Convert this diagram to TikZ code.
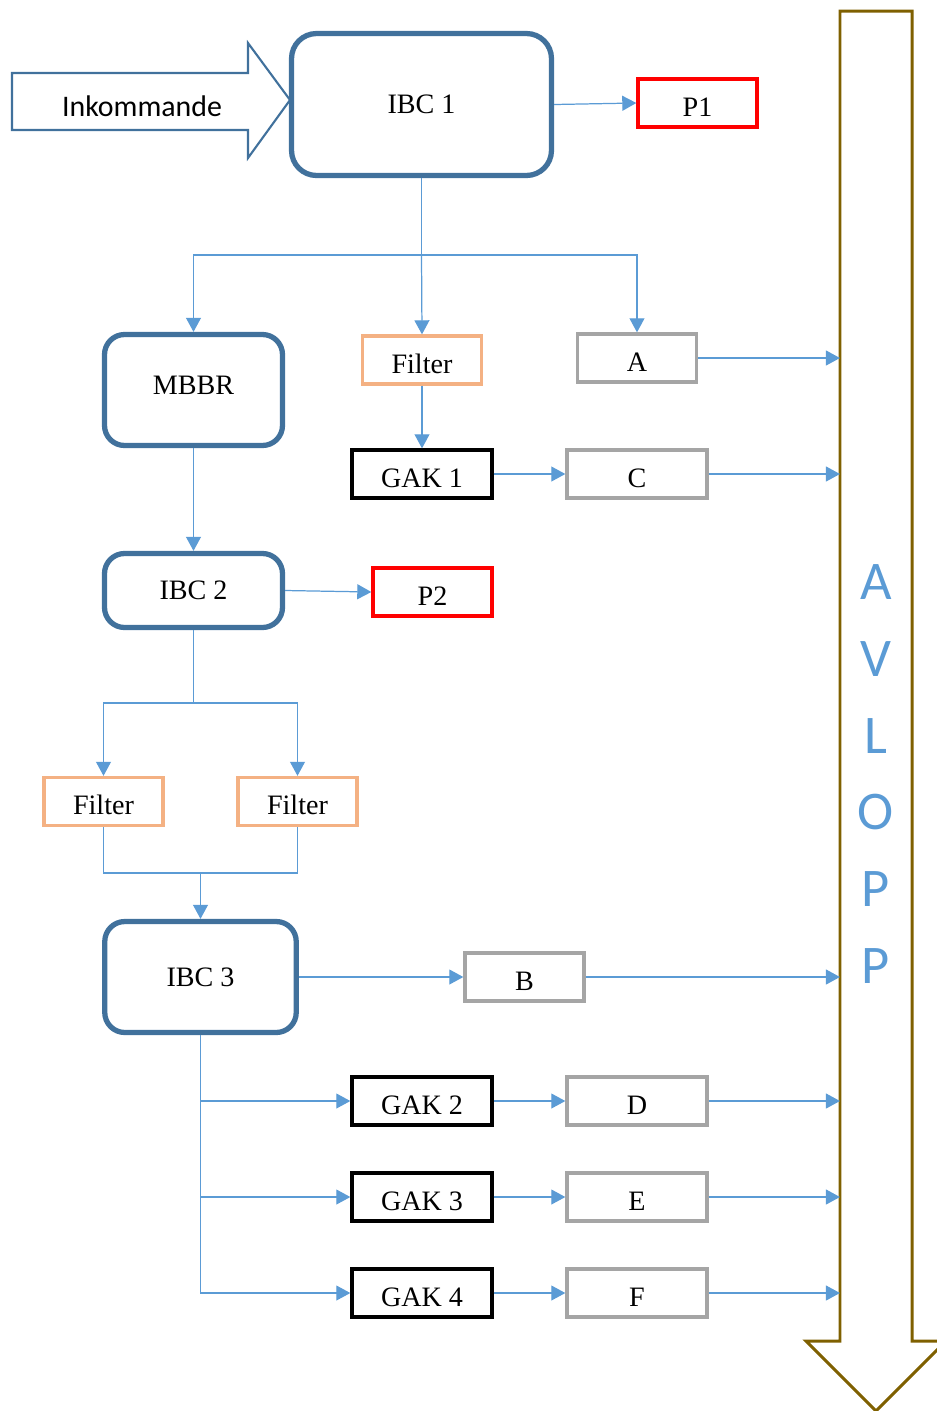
\documentclass[tikz,border=0pt]{standalone}
\usepackage{fontspec}
\setmainfont{Liberation Serif}
\newfontfamily\calibri{Carlito}
\usetikzlibrary{arrows.meta}
\definecolor{tankblue}{HTML}{41719C}
\definecolor{lineblue}{HTML}{5B9BD5}
\definecolor{filterorange}{HTML}{F4B183}
\definecolor{boxgray}{HTML}{A5A5A5}
\definecolor{avlbrown}{HTML}{7F6000}
\tikzset{>={Triangle[length=8pt,width=8.5pt]}}
\tikzset{
  tank/.style={draw=tankblue,line width=3pt,rounded corners=0.4cm,font=\fontsize{16}{19}\selectfont},
  smallbox/.style={draw,line width=1.9pt,minimum width=2.38cm,minimum height=0.96cm,text height=15pt,text depth=0pt,font=\fontsize{16}{19}\selectfont},
  widebox/.style={smallbox,minimum width=2.8cm},
  flow/.style={draw=lineblue,line width=0.7pt}
}

\begin{document}
\begin{tikzpicture}[x=0.02cm,y=-0.02cm]
      \useasboundingbox (0,0) rectangle (937,1411);
      % inkommande and avlopp
      \draw[tankblue,line width=1.2pt] (12,73) -- (248,73) -- (248,43) -- (290,100) -- (248,158) -- (248,130) -- (12,130) -- cycle;
      \node[font=\calibri\fontsize{17}{20}\selectfont] (ink) at (142,106) {Inkommande};
      \draw[avlbrown,line width=1.7pt] (840,11) -- (912,11) -- (912,1341) -- (946,1341) -- (876,1411) -- (806,1341) -- (840,1341) -- cycle;
      \node[align=center,text=lineblue,font=\calibri\fontsize{31}{43.7}\selectfont] (avl) at (876,774) {A\\V\\L\\O\\P\\P};
      \coordinate (avledge) at (840,0);
      % tanks
      \node[tank,rounded corners=0.5cm,minimum width=5.2cm,minimum height=2.84cm] (ibc1) at (421.5,104.5) {IBC 1};
      \node[tank,minimum width=3.56cm,minimum height=2.22cm,text depth=5pt] (mbbr) at (193.5,390) {MBBR};
      \node[tank,minimum width=3.56cm,minimum height=1.48cm] (ibc2) at (193.5,590.5) {IBC 2};
      \node[tank,minimum width=3.83cm,minimum height=2.22cm] (ibc3) at (200.5,977) {IBC 3};
      % boxes
      \node[smallbox,draw=red] (p1) at (697.5,103) {P1};
      \node[smallbox,draw=red] (p2) at (432.5,592) {P2};
      \node[smallbox,draw=filterorange] (filt1) at (422,360) {Filter};
      \node[smallbox,draw=filterorange] (filtl) at (103.5,801.5) {Filter};
      \node[smallbox,draw=filterorange] (filtr) at (297.5,801.5) {Filter};
      \node[smallbox,draw=boxgray] (a) at (637,358) {A};
      \node[smallbox,draw=boxgray] (b) at (524.5,977) {B};
      \node[widebox] (gak1) at (422,474) {GAK 1};
      \node[widebox] (gak2) at (422,1101) {GAK 2};
      \node[widebox] (gak3) at (422,1197) {GAK 3};
      \node[widebox] (gak4) at (422,1293) {GAK 4};
      \node[widebox,draw=boxgray] (c) at (637,474) {C};
      \node[widebox,draw=boxgray] (d) at (637,1101) {D};
      \node[widebox,draw=boxgray] (e) at (637,1197) {E};
      \node[widebox,draw=boxgray] (f) at (637,1293) {F};
      % connectors
      \coordinate (split1) at (421.5,255);
      \coordinate (split2) at (193.5,703);
      \coordinate (merge) at (200.5,873);
      \draw[flow,->] (ibc1.east) -- (p1.west);
      \draw[flow] (ibc1.south) -- (split1);
      \draw[flow,->] (split1) -| (mbbr.north);
      \draw[flow,->] (split1) -- (filt1.north);
      \draw[flow,->] (split1) -| (a.north);
      \draw[flow,->] (filt1.south) -- (gak1.north);
      \draw[flow,->] (gak1.east) -- (c.west);
      \draw[flow,->] (mbbr.south) -- (ibc2.north);
      \draw[flow,->] (ibc2.east) -- (p2.west);
      \draw[flow] (ibc2.south) -- (split2);
      \draw[flow,->] (split2) -| (filtl.north);
      \draw[flow,->] (split2) -| (filtr.north);
      \draw[flow] (filtl.south) |- (merge) -| (filtr.south);
      \draw[flow,->] (merge) -- (ibc3.north);
      \draw[flow,->] (ibc3.east) -- (b.west);
      \draw[flow,->] (ibc3.south) |- (gak4.west);
      \draw[flow,->] (ibc3.south |- gak2.west) -- (gak2.west);
      \draw[flow,->] (ibc3.south |- gak3.west) -- (gak3.west);
      \draw[flow,->] (gak2.east) -- (d.west);
      \draw[flow,->] (gak3.east) -- (e.west);
      \draw[flow,->] (gak4.east) -- (f.west);
      \draw[flow,->] (a.east) -- (a.east -| avledge);
      \draw[flow,->] (c.east) -- (c.east -| avledge);
      \draw[flow,->] (b.east) -- (b.east -| avledge);
      \draw[flow,->] (d.east) -- (d.east -| avledge);
      \draw[flow,->] (e.east) -- (e.east -| avledge);
      \draw[flow,->] (f.east) -- (f.east -| avledge);
\end{tikzpicture}
\end{document}
